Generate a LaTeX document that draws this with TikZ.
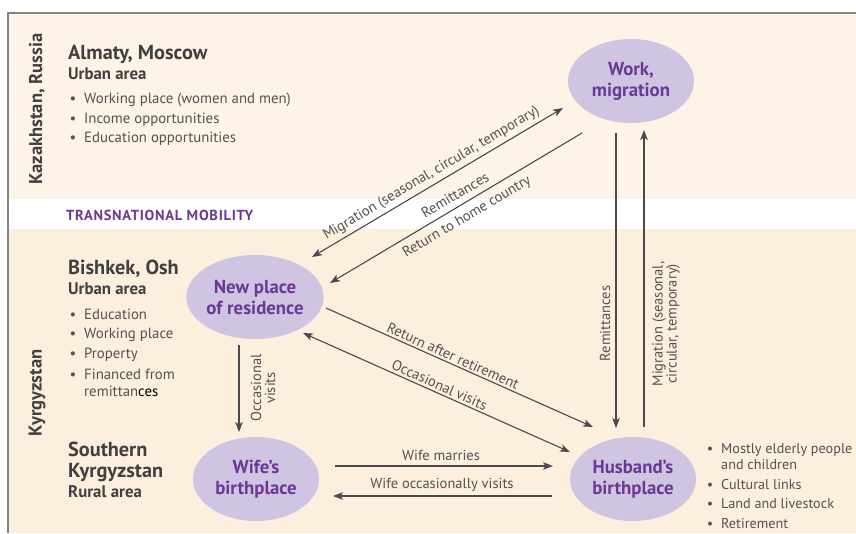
\documentclass[tikz,border=0pt]{standalone}
\usepackage{fontspec}
\setmainfont{PT Sans}
\usetikzlibrary{arrows.meta,shapes.geometric}
\definecolor{topbg}{RGB}{253,244,231}
\definecolor{botbg}{RGB}{253,239,222}
\definecolor{ellfill}{RGB}{208,196,227}
\definecolor{purp}{RGB}{106,57,150}
\definecolor{headc}{RGB}{64,64,64}
\definecolor{bodyc}{RGB}{82,82,82}
\definecolor{linec}{RGB}{74,74,74}
\definecolor{framec}{RGB}{130,130,130}
\newcommand\bitem[4]{\node[bodytxt] (#1) at (#2,#3) {\llap{\textbullet\hspace{8pt}}#4};}
\begin{document}
\begin{tikzpicture}[x=1pt,y=-1pt,
  place/.style={ellipse, fill=ellfill, minimum width=126pt, minimum height=84pt, inner sep=0pt, align=center, text=purp, font=\fontsize{18.8}{21}\selectfont\bfseries},
  headtxt/.style={inner sep=0pt, anchor=base west, text=headc, font=\fontsize{20.3}{21}\selectfont\bfseries},
  subtxt/.style={inner sep=0pt, anchor=base west, text=headc, font=\fontsize{16.8}{18}\selectfont\bfseries},
  bodytxt/.style={inner sep=0pt, anchor=base west, text=bodyc, font=\fontsize{14.8}{18}\selectfont},
  rbody/.style={bodytxt, font=\fontsize{14.2}{18}\selectfont},
  lbl/.style={inner sep=0pt, text=bodyc, align=center, font=\fontsize{14.5}{15}\selectfont},
  country/.style={inner sep=0pt, rotate=90, text=headc, font=\fontsize{18.5}{20}\selectfont\bfseries},
  arr/.style={draw=linec, line width=1.1pt, -{Stealth[length=10pt,width=7.5pt,inset=2.5pt]}},
  darr/.style={draw=linec, line width=1.1pt, {Stealth[length=10pt,width=7.5pt,inset=2.5pt]}-{Stealth[length=10pt,width=7.5pt,inset=2.5pt]}}
]
\useasboundingbox (0,0) rectangle (856,533);
% backgrounds
\fill[white] (0,0) rectangle (856,533);
\fill[topbg] (8,13) rectangle (856,199);
\fill[white] (8,199) rectangle (856,229);
\fill[botbg] (8,229) rectangle (856,533);
\draw[framec, line width=1.5pt] (8,533) -- (8,13) -- (856,13);

% places
\node[place] (work) at (631,81) {Work,\\migration};
\node[place] (newres) at (255,297) {New place\\of residence};
\node[place] (wife) at (256,479) {Wife’s\\birthplace};
\node[place] (husb) at (633,479) {Husband’s\\birthplace};

% left column, top
\node[country] (kr) at (37,109) {Kazakhstan, Russia};
\node[headtxt] (am) at (68,59) {Almaty, Moscow};
\node[subtxt] (ua1) at (68,79) {Urban area};
\bitem{t1}{84}{103}{Working place (women and men)}
\bitem{t2}{84}{123}{Income opportunities}
\bitem{t3}{84}{142}{Education opportunities}

\node[inner sep=0pt, anchor=base west, text=purp, font=\fontsize{14.5}{15}\selectfont\bfseries\addfontfeature{LetterSpace=5}] (tm) at (66,220.5) {TRANSNATIONAL MOBILITY};

% left column, bottom
\node[country] (kg) at (37,393) {Kyrgyzstan};
\node[headtxt] (bo) at (68,274) {Bishkek, Osh};
\node[subtxt] (ua2) at (68,294) {Urban area};
\bitem{k1}{84}{319}{Education}
\bitem{k2}{84}{338}{Working place}
\bitem{k3}{84}{358}{Property}
\bitem{k4}{84}{379}{Financed from}
\node[bodytxt] (k5) at (84,396) {remittan\textcolor{black}{ces}};
\node[headtxt] (sk1) at (68,456) {Southern};
\node[headtxt] (sk2) at (68,477) {Kyrgyzstan};
\node[subtxt] (ra) at (68,497) {Rural area};

% right column
\node[rbody] (h1) at (721,453) {\llap{\textbullet\hspace{8pt}}Mostly elderly people};
\node[rbody] (h1b) at (721,469) {and children};
\node[rbody] (h2) at (721,489) {\llap{\textbullet\hspace{8pt}}Cultural links};
\node[rbody] (h3) at (721,508) {\llap{\textbullet\hspace{8pt}}Land and livestock};
\node[rbody] (h4) at (721,528) {\llap{\textbullet\hspace{8pt}}Retirement};

% connector end points
\coordinate (m1a) at (312,257); \coordinate (m1b) at (563,108);
\coordinate (m2a) at (582,133); \coordinate (m2b) at (330,283);
\coordinate (r1a) at (326,308); \coordinate (r1b) at (593,427);
\coordinate (o1a) at (303,333); \coordinate (o1b) at (570,452);
\coordinate (v1a) at (616,133); \coordinate (v1b) at (616,428);
\coordinate (v2a) at (644,427); \coordinate (v2b) at (644,130);
\coordinate (ov1) at (239,345); \coordinate (ov2) at (239,432);
\coordinate (wm1) at (335,466); \coordinate (wm2) at (553,466);
\coordinate (wv1) at (552,496); \coordinate (wv2) at (333,496);

\draw[darr] (m1a) -- (m1b);
\draw[arr] (m2a) -- (m2b);
\draw[arr] (r1a) -- (r1b);
\draw[darr] (o1a) -- (o1b);
\draw[arr] (v1a) -- (v1b);
\draw[arr] (v2a) -- (v2b);
\draw[arr] (ov1) -- (ov2);
\draw[arr] (wm1) -- (wm2);
\draw[arr] (wv1) -- (wv2);

% connector labels
\node[lbl, rotate=30.7] (lm1) at (431.5,173.5) {Migration (seasonal, circular, temporary)};
\node[lbl, rotate=30.7] (lm2) at (455,195) {Remittances};
\node[lbl, rotate=30.7] (lm3) at (467,217) {Return to home country};
\node[lbl, rotate=-24] (lr1) at (453,356) {Return after retirement};
\node[lbl, rotate=-24] (lo1) at (439.5,385) {Occasional visits};
\node[lbl, rotate=90] (lv1) at (605,323.5) {Remittances};
\node[lbl, rotate=90, font=\fontsize{14.5}{14}\selectfont] (lv2) at (666,324) {Migration (seasonal,\\circular, temporary)};
\node[lbl, rotate=90, font=\fontsize{14.5}{14}\selectfont] (lov) at (263,388) {Occasional\\visits};
\node[lbl] (lwm) at (441,455) {Wife marries};
\node[lbl] (lwv) at (442,485) {Wife occasionally visits};
\end{tikzpicture}
\end{document}
